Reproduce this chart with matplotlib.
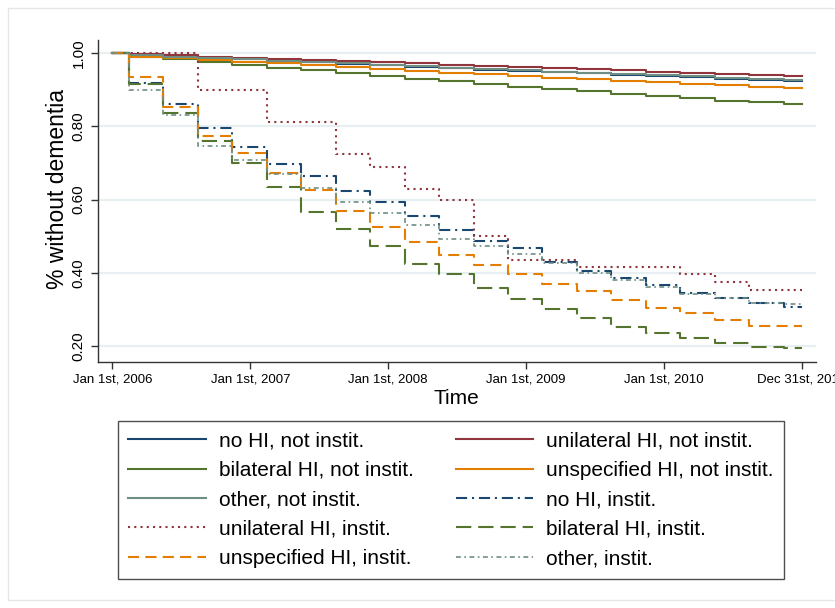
import numpy as np
import matplotlib
matplotlib.use('Agg')
import matplotlib.pyplot as plt
from matplotlib.patches import Rectangle

plt.rcParams['font.family'] = ['Liberation Sans', 'DejaVu Sans']
plt.rcParams['lines.scale_dashes'] = False

# quarterly step times (years after Jan 1st, 2006), plus start and end
step_times = [0.12, 0.37, 0.62, 0.87, 1.12, 1.37, 1.62, 1.87, 2.12, 2.37,
              2.62, 2.87, 3.12, 3.37, 3.62, 3.87, 4.12, 4.37, 4.62, 4.87]
t_start = 0.0
t_end = 5.0

# survival (share without dementia) before first step and after each step
nohi_not = [1.0, 0.992, 0.989, 0.986, 0.982, 0.978, 0.974, 0.970, 0.966, 0.962, 0.958,
            0.954, 0.951, 0.947, 0.944, 0.940, 0.936, 0.933, 0.929, 0.925, 0.922]
uni_not = [1.0, 0.996, 0.993, 0.990, 0.987, 0.984, 0.981, 0.977, 0.974, 0.971, 0.968,
           0.965, 0.962, 0.959, 0.956, 0.952, 0.949, 0.946, 0.943, 0.940, 0.937]
bi_not = [1.0, 0.990, 0.983, 0.975, 0.967, 0.960, 0.952, 0.944, 0.936, 0.929, 0.922,
          0.915, 0.908, 0.901, 0.895, 0.889, 0.882, 0.876, 0.870, 0.865, 0.861]
unsp_not = [1.0, 0.990, 0.986, 0.981, 0.976, 0.972, 0.967, 0.962, 0.956, 0.951, 0.946,
            0.941, 0.937, 0.932, 0.928, 0.924, 0.920, 0.916, 0.912, 0.908, 0.905]
oth_not = [1.0, 0.993, 0.990, 0.987, 0.983, 0.979, 0.975, 0.971, 0.967, 0.964, 0.960,
           0.956, 0.953, 0.949, 0.946, 0.942, 0.939, 0.936, 0.932, 0.929, 0.926]
nohi_inst = [1.0, 0.918, 0.861, 0.795, 0.742, 0.697, 0.663, 0.624, 0.594, 0.555, 0.517,
             0.488, 0.467, 0.431, 0.406, 0.385, 0.367, 0.346, 0.331, 0.317, 0.306]
uni_inst = [1.0, 1.0, 1.0, 0.899, 0.899, 0.812, 0.812, 0.724, 0.689, 0.630, 0.600,
            0.500, 0.435, 0.435, 0.416, 0.416, 0.416, 0.397, 0.375, 0.353, 0.353]
bi_inst = [1.0, 0.915, 0.835, 0.760, 0.699, 0.634, 0.567, 0.520, 0.473, 0.423, 0.398,
           0.360, 0.329, 0.302, 0.276, 0.252, 0.237, 0.222, 0.210, 0.197, 0.194]
unsp_inst = [1.0, 0.935, 0.851, 0.774, 0.728, 0.672, 0.625, 0.570, 0.526, 0.483, 0.448,
             0.422, 0.396, 0.370, 0.351, 0.325, 0.303, 0.290, 0.271, 0.256, 0.256]
oth_inst = [1.0, 0.899, 0.831, 0.746, 0.708, 0.670, 0.631, 0.592, 0.563, 0.530, 0.492,
            0.472, 0.452, 0.428, 0.401, 0.381, 0.362, 0.343, 0.331, 0.318, 0.316]

labels = ['no HI, not instit.', 'unilateral HI, not instit.',
          'bilateral HI, not instit.', 'unspecified HI, not instit.',
          'other, not instit.', 'no HI, instit.',
          'unilateral HI, instit.', 'bilateral HI, instit.',
          'unspecified HI, instit.', 'other, instit.']
xtick_labels = ['Jan 1st, 2006', 'Jan 1st, 2007', 'Jan 1st, 2008',
                'Jan 1st, 2009', 'Jan 1st, 2010', 'Dec 31st, 2010']
yticks = [0.2, 0.4, 0.6, 0.8, 1.0]

navy = '#1a476f'
maroon = '#90353b'
green = '#55752f'
orange = '#e37e00'
teal = '#6e8e84'

series = [
    (nohi_not, navy, '-', 1.5),
    (uni_not, maroon, '-', 1.5),
    (bi_not, green, '-', 1.5),
    (unsp_not, orange, '-', 1.5),
    (oth_not, teal, '-', 1.5),
    (nohi_inst, navy, (0, (8, 3.5, 1.5, 3.5)), 1.5),
    (uni_inst, maroon, (0, (1.5, 3.0)), 1.5),
    (bi_inst, green, (0, (11, 5)), 1.5),
    (unsp_inst, orange, (0, (8, 4.5)), 1.5),
    (oth_inst, teal, (0, (3.5, 2.5, 1.2, 2.5)), 1.2),
]

t = np.array([t_start] + step_times + [t_end])

fig = plt.figure(figsize=(8.35, 6.08), dpi=100)
fig.patches.append(Rectangle((8 / 835, 8 / 608), 1.0, 592 / 608, transform=fig.transFigure,
                             fill=False, edgecolor='#e6e6e6', lw=1.0))
ax = fig.add_axes([0.1174, 0.4046, 0.8599, 0.5296])

handles = []
for vals, col, ls, lw in series:
    y = np.array(vals + [vals[-1]])
    h, = ax.plot(t, y, drawstyle='steps-post', color=col, ls=ls, lw=lw)
    handles.append(h)

ax.set_xlim(-0.105, 5.105)
ax.set_ylim(0.157, 1.035)

ax.set_yticks(yticks)
ax.set_yticklabels(['%.2f' % v for v in yticks], rotation=90, va='center', fontsize=11)
ax.set_xticks(range(6))
ax.set_xticklabels(xtick_labels, fontsize=9.5)
ax.tick_params(axis='both', direction='out', length=5, width=1.0, color='#333333')
ax.tick_params(axis='y', pad=4)
ax.tick_params(axis='x', pad=3)

ax.grid(axis='y', color='#e8eff2', lw=1.6, zorder=0)
ax.set_axisbelow(True)

for side in ['top', 'right']:
    ax.spines[side].set_visible(False)
for side in ['left', 'bottom']:
    ax.spines[side].set_color('#333333')
    ax.spines[side].set_linewidth(1.0)

ax.set_xlabel('Time', fontsize=15)
ax.xaxis.set_label_coords(0.4986, -0.084)
ax.set_ylabel('% without dementia', fontsize=16.5)
ax.yaxis.set_label_coords(-0.04, 0.537)

order = [0, 2, 4, 6, 8, 1, 3, 5, 7, 9]
leg = fig.legend([handles[i] for i in order], [labels[i] for i in order],
                 loc='upper left', bbox_to_anchor=(118 / 835, 1 - 421 / 608),
                 ncol=2, fontsize=15, frameon=True, fancybox=False,
                 handlelength=3.7, handletextpad=0.65, labelspacing=0.5,
                 columnspacing=2.0, borderpad=0.5, borderaxespad=0)
leg.get_frame().set_edgecolor('#222222')
leg.get_frame().set_linewidth(1.0)

plt.savefig('out.png', dpi=100)
plt.close('all')
